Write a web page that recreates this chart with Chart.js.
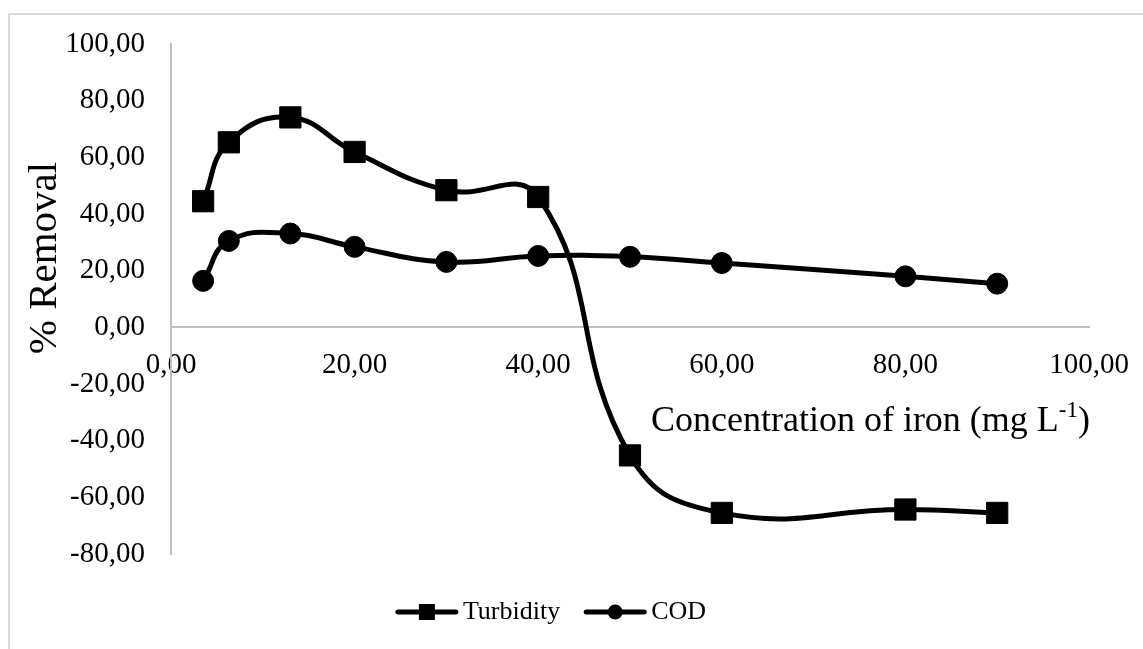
<!DOCTYPE html>
<html>
<head>
<meta charset="utf-8">
<script src="https://cdn.jsdelivr.net/npm/chart.js@4/dist/chart.umd.min.js"></script>
<style>
    html, body { margin: 0; padding: 0; background: #fff; }
    #wrap { width: 1143px; height: 649px; position: relative; }
</style>
</head>
<body>
<div id="wrap"><canvas id="removalChart" width="1143" height="649"></canvas></div>
<script>
// iron dose (mg/L) and % removal
const ironConc = [3.5, 6.3, 13, 20, 30, 40, 50, 60, 80, 90];
const turbidity = [44.5, 65.3, 74.1, 61.9, 48.4, 46.0, -45.2, -65.5, -64.3, -65.5];
const cod = [16.4, 30.5, 33.1, 28.4, 23.1, 25.2, 24.9, 22.7, 18.0, 15.4];
const seriesNames = ['Turbidity', 'COD'];

const FONT = '"Liberation Serif", "Times New Roman", serif';

function toPoints(xs, ys) {
    return xs.map((x, i) => ({ x: x, y: ys[i] }));
}

function fmt(v) {
    return Number(v).toFixed(2).replace('.', ',');
}

// frame, axis titles and the legend (line + marker like the original)
const decorPlugin = {
    id: 'decor',
    beforeDraw(chart) {
        const ctx = chart.ctx;
        ctx.save();
        ctx.strokeStyle = '#d9d9d9';
        ctx.lineWidth = 2;
        ctx.beginPath();
        ctx.moveTo(9, 649);
        ctx.lineTo(9, 14);
        ctx.lineTo(1143, 14);
        ctx.stroke();
        ctx.restore();
    },
    afterDraw(chart) {
        const ctx = chart.ctx;
        ctx.save();
        ctx.fillStyle = '#000';

        // y title
        ctx.save();
        ctx.translate(45, 258);
        ctx.rotate(-Math.PI / 2);
        ctx.font = '41px ' + FONT;
        ctx.textAlign = 'center';
        ctx.textBaseline = 'middle';
        ctx.fillText('% Removal', 0, 0);
        ctx.restore();

        // x title with superscript, right aligned
        const main = 'Concentration of iron (mg L';
        const sup = '-1';
        const tail = ')';
        ctx.textBaseline = 'alphabetic';
        ctx.font = '36px ' + FONT;
        const wMain = ctx.measureText(main).width;
        const wTail = ctx.measureText(tail).width;
        ctx.font = '23px ' + FONT;
        const wSup = ctx.measureText(sup).width;
        const right = 1090, base = 431;
        let x = right - wMain - wSup - wTail;
        ctx.font = '36px ' + FONT;
        ctx.textAlign = 'left';
        ctx.fillText(main, x, base);
        x += wMain;
        ctx.font = '23px ' + FONT;
        ctx.fillText(sup, x, base - 14);
        x += wSup;
        ctx.font = '36px ' + FONT;
        ctx.fillText(tail, x, base);

        // legend
        const legendY = 612;
        const lineLen = 58;
        const gap = 7;
        const itemGap = 26;
        ctx.font = '26px ' + FONT;
        const items = chart.data.datasets.map(ds => ({
            ds: ds,
            w: lineLen + gap + ctx.measureText(ds.label).width
        }));
        const total = items.reduce((s, it) => s + it.w, 0) + itemGap * (items.length - 1);
        let lx = 552 - total / 2;
        items.forEach(it => {
            ctx.strokeStyle = '#000';
            ctx.lineWidth = 5;
            ctx.lineCap = 'round';
            ctx.beginPath();
            ctx.moveTo(lx, legendY);
            ctx.lineTo(lx + lineLen, legendY);
            ctx.stroke();
            const cx = lx + lineLen / 2;
            ctx.fillStyle = '#000';
            if (it.ds.pointStyle === 'rect') {
                ctx.fillRect(cx - 8, legendY - 8, 16, 16);
            } else {
                ctx.beginPath();
                ctx.arc(cx, legendY, 7.5, 0, Math.PI * 2);
                ctx.fill();
            }
            ctx.textAlign = 'left';
            ctx.textBaseline = 'middle';
            ctx.fillText(it.ds.label, lx + lineLen + gap, legendY);
            lx += it.w + itemGap;
        });
        ctx.restore();
    }
};

document.addEventListener('DOMContentLoaded', function() {
    const ctx = document.getElementById('removalChart');

    new Chart(ctx, {
        type: 'line',
        data: {
            datasets: [{
                label: seriesNames[0],
                data: toPoints(ironConc, turbidity),
                borderColor: '#000',
                backgroundColor: '#000',
                borderWidth: 5,
                tension: 0.45,
                pointStyle: 'rect',
                pointRadius: 15,
                pointBorderWidth: 1,
                fill: false
            }, {
                label: seriesNames[1],
                data: toPoints(ironConc, cod),
                borderColor: '#000',
                backgroundColor: '#000',
                borderWidth: 5,
                tension: 0.45,
                pointStyle: 'circle',
                pointRadius: 10.5,
                pointBorderWidth: 1,
                fill: false
            }]
        },
        options: {
            responsive: false,
            animation: false,
            layout: {
                autoPadding: false,
                padding: { left: 0, top: 44, right: 54, bottom: 95 }
            },
            scales: {
                x: {
                    type: 'linear',
                    position: { y: 0 },
                    min: 0,
                    max: 100,
                    grid: { display: false, drawTicks: false },
                    border: { display: true, color: '#bfbfbf', width: 2 },
                    ticks: {
                        stepSize: 20,
                        padding: 21,
                        color: '#000',
                        font: { family: FONT, size: 29 },
                        maxRotation: 0,
                        callback: v => fmt(v)
                    },
                    afterFit: function(axis) {
                        axis.paddingLeft = 0;
                        axis.paddingRight = 0;
                    }
                },
                y: {
                    type: 'linear',
                    min: -80,
                    max: 100,
                    grid: { display: false, drawTicks: false },
                    border: { display: true, color: '#bfbfbf', width: 2 },
                    ticks: {
                        stepSize: 20,
                        padding: 26,
                        color: '#000',
                        font: { family: FONT, size: 29 },
                        callback: v => fmt(v)
                    },
                    afterFit: function(axis) {
                        axis.width = 171;
                        axis.paddingTop = 0;
                        axis.paddingBottom = 0;
                    }
                }
            },
            plugins: {
                legend: { display: false },
                tooltip: { enabled: false }
            }
        },
        plugins: [decorPlugin]
    });
});
</script>
</body>
</html>
